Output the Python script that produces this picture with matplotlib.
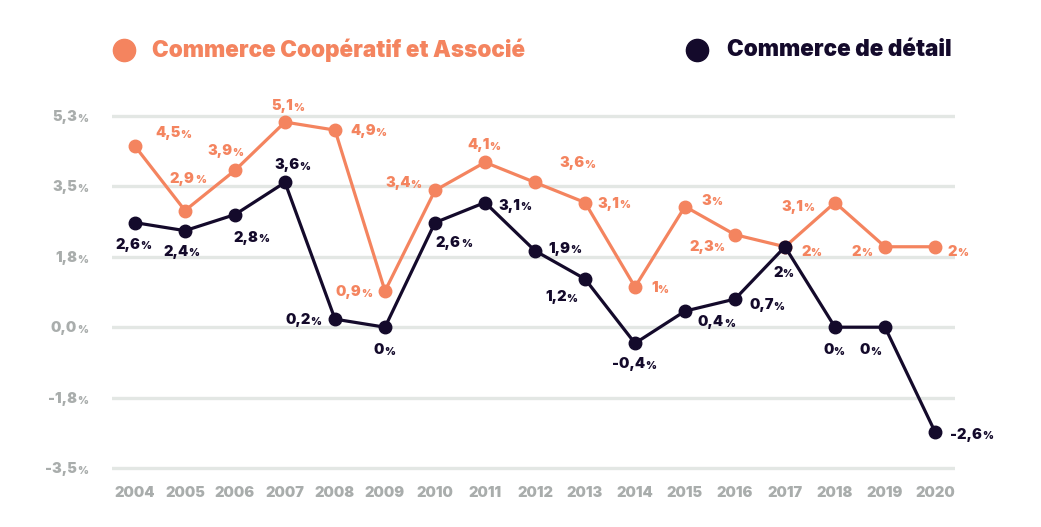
import matplotlib
matplotlib.use("Agg")
import matplotlib.pyplot as plt

years = list(range(2004, 2021))
coop = [4.5, 2.9, 3.9, 5.1, 4.9, 0.9, 3.4, 4.1, 3.6, 3.1, 1.0, 3.0, 2.3, 2.0, 3.1, 2.0, 2.0]
detail = [2.6, 2.4, 2.8, 3.6, 0.2, 0.0, 2.6, 3.1, 1.9, 1.2, -0.4, 0.4, 0.7, 2.0, 0.0, 0.0, -2.6]
ytick_vals = [5.25, 3.5, 1.75, 0.0, -1.75, -3.5]
ytick_labels = ["5,3", "3,5", "1,8", "0,0", "-1,8", "-3,5"]
series_names = ["Commerce Coopératif et Associé", "Commerce de détail"]

ORANGE = "#F4845F"
DARK = "#140A2B"
GRAY = "#A9ADAC"
GRID = "#E3E7E4"
FAM = ["Inter", "DejaVu Sans"]
W = 900

# label placement: (left edge offset px, label centre offset px (downwards))
coop_pos = [(20, -14), (-15, -33), (-28, -20), (-14, -17), (15, 0), (-50, 0), (-50, -8),
            (-18, -18), (24, -20), (12, 0), (16, 0), (16, -7), (-46, 11), (16, 4),
            (-54, 3), (-33, 4), (13, 4)]
det_pos = [(-20, 21), (-22, 20), (-2, 22), (-11, -18), (-50, 0), (-11, 22), (1, 19),
           (13, 2), (13, -3), (-40, 17), (-23, 20), (13, 10), (14, 5), (-12, 25),
           (-12, 22), (-25, 22), (15, 2)]

fig = plt.figure(figsize=(10.41, 5.27), dpi=100)
ax = fig.add_axes([112 / 1041, (527 - 472) / 527, 843 / 1041, 362 / 527])
ax.set_xlim(2003.54, 2020.4)
ax.set_ylim(-3.6, 5.4)
for s in ax.spines.values():
    s.set_visible(False)
ax.set_yticks(ytick_vals)
ax.set_xticks(years)
ax.tick_params(length=0, labelleft=False, labelbottom=False)
ax.grid(axis="y", color=GRID, linewidth=2.4)
ax.set_axisbelow(True)

ax.plot(years, coop, color=ORANGE, lw=2.3, marker="o", ms=9, zorder=3)
ax.plot(years, detail, color=DARK, lw=2.3, marker="o", ms=9, zorder=4)


def fmt(v):
    return f"{v:g}".replace(".", ",")


def label(x, y, v, off, color):
    dx, dy = off
    t = ax.annotate(fmt(v), xy=(x, y), xytext=(dx, -dy - 5), textcoords="offset pixels",
                    ha="left", va="baseline", fontsize=10.5, family=FAM, weight=W,
                    color=color, zorder=6)
    ax.annotate("%", xy=(1, 0.02), xycoords=t, ha="left", va="bottom", fontsize=7.5,
                family=FAM, weight=W, color=color, zorder=6)


for x, v, o in zip(years, coop, coop_pos):
    label(x, v, v, o, ORANGE)
for x, v, o in zip(years, detail, det_pos):
    label(x, v, v, o, DARK)

# y tick labels
for v, lab in zip(ytick_vals, ytick_labels):
    p = ax.annotate("%", xy=(0, v), xycoords=ax.get_yaxis_transform(), xytext=(-24, -6),
                    textcoords="offset pixels", ha="right", va="baseline", fontsize=7.5,
                    family=FAM, weight=W, color=GRAY)
    ax.annotate(lab, xy=(0, 0), xycoords=p, ha="right", va="bottom", fontsize=10.5,
                family=FAM, weight=W, color=GRAY)

# x tick labels
for yr in years:
    ax.annotate(str(yr), xy=(yr, 0), xycoords=ax.get_xaxis_transform(), xytext=(0, -21),
                textcoords="offset pixels", ha="center", va="center", fontsize=10.5,
                family=FAM, weight=W, color=GRAY)

# legend
fig.lines.append(plt.Line2D([124 / 1041], [1 - 50 / 527], transform=fig.transFigure,
                            marker="o", ms=16, color=ORANGE, ls=""))
fig.text(152 / 1041, 1 - 50 / 527, series_names[0], ha="left", va="center", fontsize=16.2,
         family=FAM, weight=W, color=ORANGE)
fig.lines.append(plt.Line2D([697 / 1041], [1 - 50 / 527], transform=fig.transFigure,
                            marker="o", ms=16, color=DARK, ls=""))
fig.text(727 / 1041, 1 - 50 / 527, series_names[1], ha="left", va="center", fontsize=16.2,
         family=FAM, weight=W, color=DARK)

fig.savefig("out.png", dpi=100, facecolor="white")
